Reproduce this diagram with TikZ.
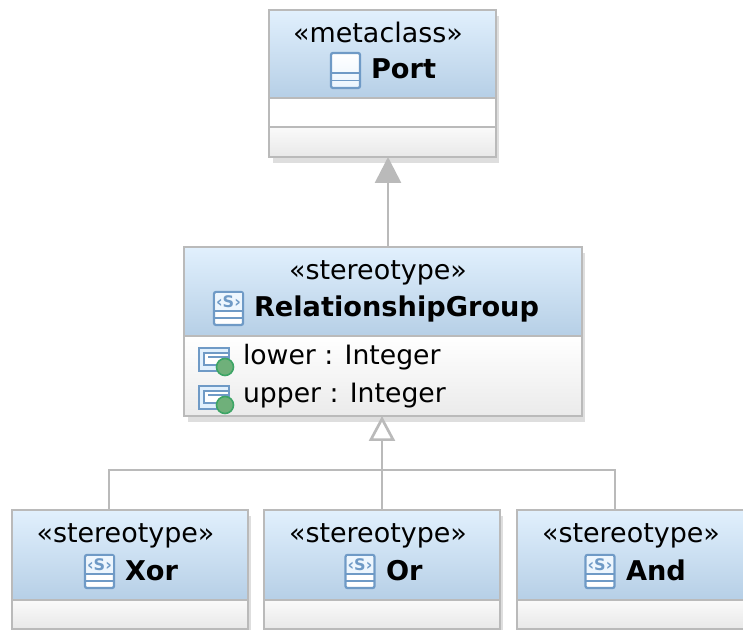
\documentclass[tikz,border=0pt]{standalone}
\usepackage{fontspec}
\setmainfont{DejaVu Sans}
\usetikzlibrary{arrows.meta}
\def\px{0.75pt}
\definecolor{headtop}{HTML}{E1F0FD}
\definecolor{headbot}{HTML}{B6CFE6}
\definecolor{edge}{HTML}{BABABA}
\definecolor{shade}{HTML}{DEDEDE}
\definecolor{icon}{HTML}{6F9AC6}
\definecolor{ball}{HTML}{6FB07A}
\definecolor{ballrim}{HTML}{3DA566}
\tikzset{
  x=\px, y=-\px,
  comp/.style={inner sep=0pt, outer sep=0pt, draw=none},
  headcomp/.style={comp, top color=headtop, bottom color=headbot},
  plaincomp/.style={comp, fill=white},
  attrcomp/.style={comp, top color=white, middle color=white, bottom color=black!8},
  footcomp/.style={comp, top color=black!2, bottom color=black!9},
  frame/.style={comp, draw=edge, line width=1.9pt},
  shadowbox/.style={comp, fill=shade},
  sepline/.style={draw=edge, line width=1.4pt},
  stereo/.style={inner sep=0pt, outer sep=0pt, anchor=base, font=\fontsize{20.2}{24}\selectfont, text=black},
  uname/.style={inner sep=0pt, outer sep=0pt, anchor=base west, font=\fontsize{20.4}{24}\selectfont\bfseries, text=black},
  attr/.style={inner sep=0pt, outer sep=0pt, anchor=base west, font=\fontsize{20}{24}\selectfont, text=black},
  wire/.style={draw=edge, line width=2pt},
  extends/.style={wire, -{Triangle[length=26*\px, width=26*\px, fill=edge]}},
  inherits/.style={wire, -{Triangle[open, length=25*\px, width=26*\px, fill=white]}},
  classicon/.pic={
    \draw[icon, line width=1.7pt, rounded corners=1.5pt, top color=white, bottom color=headtop!70!white] (0,0) rectangle (29,35);
    \draw[icon, line width=1.4pt] (0,20) -- (29,20) (0,27.5) -- (29,27.5);
  },
  stereoicon/.pic={
    \draw[icon, line width=1.7pt, rounded corners=1.5pt, fill=white] (0,0) rectangle (29,33);
    \fill[headtop!60!white] (1.5,1.5) rectangle (27.5,18);
    \draw[icon, line width=1.4pt] (0,19) -- (29,19) (0,26) -- (29,26);
    \node[inner sep=0pt, text=icon, font=\fontsize{12}{12}\selectfont\bfseries] at (14.5,9.5) {‹S›};
  },
  attricon/.pic={
    \draw[icon, line width=1.7pt, fill=headtop] (0,0) rectangle (30,23);
    \draw[icon, line width=1.2pt, fill=white] (5,5) rectangle (30,17);
    \draw[icon, line width=1pt] (9,9) -- (30,9);
    \draw[ballrim, line width=1.2pt, fill=ball] (26,19) circle (8.5);
  },
}
\newcommand{\umlcomp}[6]{%
  \node[#2, minimum width={(#5-#3)*\px}, minimum height={(#6-#4)*\px}] (#1) at ({(#3+#5)/2},{(#4+#6)/2}) {};}
\begin{document}
\begin{tikzpicture}
\useasboundingbox (0,0) rectangle (743,630);
% Port
\umlcomp{portshadow}{shadowbox}{273}{16}{499}{163}
\umlcomp{porthead}{headcomp}{269}{10}{496}{98}
\umlcomp{portattr}{plaincomp}{269}{98}{496}{127}
\umlcomp{portops}{footcomp}{269}{127}{496}{157}
\draw[sepline] (porthead.south west) -- (porthead.south east);
\draw[sepline] (portops.north west) -- (portops.north east);
\umlcomp{port}{frame}{269}{10}{496}{157}
\node[stereo] (portst) at (378,43) {«metaclass»};
\pic at (331,53) {classicon};
\node[uname] (portname) at (371,79) {Port};
% RelationshipGroup
\umlcomp{rgshadow}{shadowbox}{188}{253}{585}{422}
\umlcomp{rghead}{headcomp}{184}{247}{582}{336}
\umlcomp{rgattr}{attrcomp}{184}{336}{582}{416}
\draw[sepline] (rghead.south west) -- (rghead.south east);
\umlcomp{rg}{frame}{184}{247}{582}{416}
\node[stereo] (rgst) at (378,280) {«stereotype»};
\pic at (214,292) {stereoicon};
\node[uname] (rgname) at (254,317) {RelationshipGroup};
\pic at (199,348) {attricon};
\node[attr] (lower) at (243,365) {lower : Integer};
\pic at (199,386) {attricon};
\node[attr] (upper) at (243,403) {upper : Integer};
% Xor
\umlcomp{xorshadow}{shadowbox}{16}{516}{251}{634}
\umlcomp{xorhead}{headcomp}{12}{510}{248}{600}
\umlcomp{xorops}{footcomp}{12}{600}{248}{629}
\draw[sepline] (xorhead.south west) -- (xorhead.south east);
\umlcomp{xor}{frame}{12}{510}{248}{629}
\node[stereo] (xorst) at (125.5,543) {«stereotype»};
\pic at (85,555) {stereoicon};
\node[uname] (xorname) at (125,581) {Xor};
% Or
\umlcomp{orshadow}{shadowbox}{268}{516}{503}{634}
\umlcomp{orhead}{headcomp}{264}{510}{500}{600}
\umlcomp{orops}{footcomp}{264}{600}{500}{629}
\draw[sepline] (orhead.south west) -- (orhead.south east);
\umlcomp{orbox}{frame}{264}{510}{500}{629}
\node[stereo] (orst) at (378,543) {«stereotype»};
\pic at (345.5,555) {stereoicon};
\node[uname] (orname) at (386,581) {Or};
% And
\umlcomp{andshadow}{shadowbox}{521}{516}{757}{634}
\umlcomp{andhead}{headcomp}{517}{510}{753}{600}
\umlcomp{andops}{footcomp}{517}{600}{753}{629}
\draw[sepline] (andhead.south west) -- (andhead.south east);
\umlcomp{andbox}{frame}{517}{510}{753}{629}
\node[stereo] (andst) at (631,543) {«stereotype»};
\pic at (585.5,555) {stereoicon};
\node[uname] (andname) at (626,581) {And};
% connectors
\coordinate (bus) at (382,470);
\coordinate (xorin) at (109,510);
\coordinate (andin) at (615,510);
\coordinate (rgout) at (388,247);
\draw[extends] (rgout) -- (rgout |- port.south);
\draw[inherits] (orbox.north) -- (orbox.north |- rg.south);
\draw[wire] (xorin) |- (bus);
\draw[wire] (andin) |- (bus);
\end{tikzpicture}
\end{document}
